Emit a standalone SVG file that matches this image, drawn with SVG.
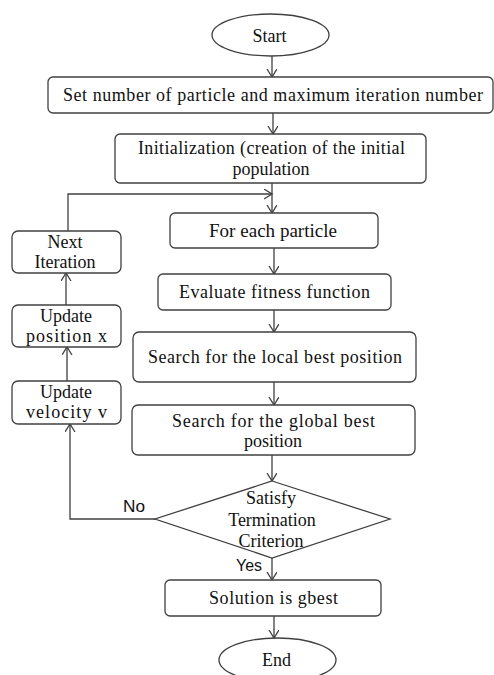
<svg xmlns="http://www.w3.org/2000/svg" width="494" height="675" viewBox="0 0 494 675">
<style>
.n{fill:#fff;stroke:#404040;stroke-width:1.3}
.t{font-family:"Liberation Serif","Times New Roman",serif;font-size:18px;fill:#111;text-anchor:middle}
.s{font-family:"Liberation Sans",Arial,sans-serif;font-size:16px;fill:#111;text-anchor:middle}
.c{fill:none;stroke:#404040;stroke-width:1.3}
</style>
<defs>
<marker id="a" markerUnits="userSpaceOnUse" markerWidth="12" markerHeight="12" refX="8" refY="5" orient="auto">
<path d="M0,0 L8,5 L0,10" fill="none" stroke="#404040" stroke-width="1.3"/>
</marker>
</defs>
<rect width="494" height="675" fill="#fff"/>
<g id="connectors">
<line class="c" x1="272" y1="56" x2="272" y2="77" marker-end="url(#a)"/>
<line class="c" x1="273" y1="113" x2="273" y2="134" marker-end="url(#a)"/>
<line class="c" x1="272" y1="183" x2="272" y2="213" marker-end="url(#a)"/>
<polyline class="c" points="68,231 68,194 272,194" marker-end="url(#a)"/>
<line class="c" x1="274" y1="248" x2="274" y2="274" marker-end="url(#a)"/>
<line class="c" x1="274" y1="310" x2="274" y2="332" marker-end="url(#a)"/>
<line class="c" x1="274" y1="382" x2="274" y2="405" marker-end="url(#a)"/>
<line class="c" x1="272" y1="455" x2="272" y2="481" marker-end="url(#a)"/>
<polyline class="c" points="155,519 70,519 70,424" marker-end="url(#a)"/>
<line class="c" x1="67" y1="381" x2="67" y2="347" marker-end="url(#a)"/>
<line class="c" x1="66" y1="305" x2="66" y2="273" marker-end="url(#a)"/>
<line class="c" x1="272" y1="558" x2="272" y2="580" marker-end="url(#a)"/>
<line class="c" x1="274" y1="616" x2="274" y2="638" marker-end="url(#a)"/>
<text class="s" x="134" y="512" textLength="22" lengthAdjust="spacingAndGlyphs">No</text>
<text class="s" x="249" y="571" textLength="26" lengthAdjust="spacingAndGlyphs">Yes</text>
</g>
<g id="start">
<ellipse class="n" cx="270.5" cy="35" rx="58.5" ry="21"/>
<text class="t" x="269.5" y="42">Start</text>
</g>
<g id="set">
<rect class="n" x="48" y="77" width="445" height="36" rx="5"/>
<text class="t" x="273" y="101" textLength="420" lengthAdjust="spacing">Set number of particle and maximum  iteration  number</text>
</g>
<g id="init">
<rect class="n" x="115" y="134" width="311" height="49" rx="5"/>
<text class="t" x="271.5" y="154" textLength="267" lengthAdjust="spacing">Initialization  (creation of the initial</text>
<text class="t" x="271" y="175">population</text>
</g>
<g id="foreach">
<rect class="n" x="170" y="213" width="208" height="35" rx="5"/>
<text class="t" x="273" y="237" textLength="128" lengthAdjust="spacingAndGlyphs">For each particle</text>
</g>
<g id="evaluate">
<rect class="n" x="158" y="274" width="233" height="36" rx="5"/>
<text class="t" x="274.5" y="298" textLength="191" lengthAdjust="spacing">Evaluate  fitness  function</text>
</g>
<g id="local">
<rect class="n" x="133" y="332" width="283" height="50" rx="6"/>
<text class="t" x="275" y="363" textLength="254" lengthAdjust="spacing">Search for the local best position</text>
</g>
<g id="global">
<rect class="n" x="132" y="405" width="283" height="50" rx="6"/>
<text class="t" x="273.5" y="427" textLength="203" lengthAdjust="spacing">Search for the global  best</text>
<text class="t" x="273" y="447">position</text>
</g>
<g id="decision">
<polygon class="n" points="272,481 390,519 272,558 155,519"/>
<text class="t" x="271" y="504">Satisfy</text>
<text class="t" x="272" y="526">Termination</text>
<text class="t" x="271" y="547">Criterion</text>
</g>
<g id="solution">
<rect class="n" x="165" y="580" width="216" height="36" rx="5"/>
<text class="t" x="273.5" y="604" textLength="129" lengthAdjust="spacing">Solution is gbest</text>
</g>
<g id="end">
<ellipse class="n" cx="277.5" cy="660" rx="58.5" ry="22"/>
<text class="t" x="276.5" y="666">End</text>
</g>
<g id="next">
<rect class="n" x="12" y="231" width="109" height="42" rx="6"/>
<text class="t" x="65" y="248">Next</text>
<text class="t" x="65" y="268">Iteration</text>
</g>
<g id="position">
<rect class="n" x="12" y="305" width="109" height="42" rx="6"/>
<text class="t" x="66" y="322">Update</text>
<text class="t" x="66.5" y="342" textLength="81" lengthAdjust="spacing">position  x</text>
</g>
<g id="velocity">
<rect class="n" x="12" y="381" width="109" height="43" rx="6"/>
<text class="t" x="66" y="398">Update</text>
<text class="t" x="66.5" y="418" textLength="81" lengthAdjust="spacing">velocity  v</text>
</g>
</svg>
